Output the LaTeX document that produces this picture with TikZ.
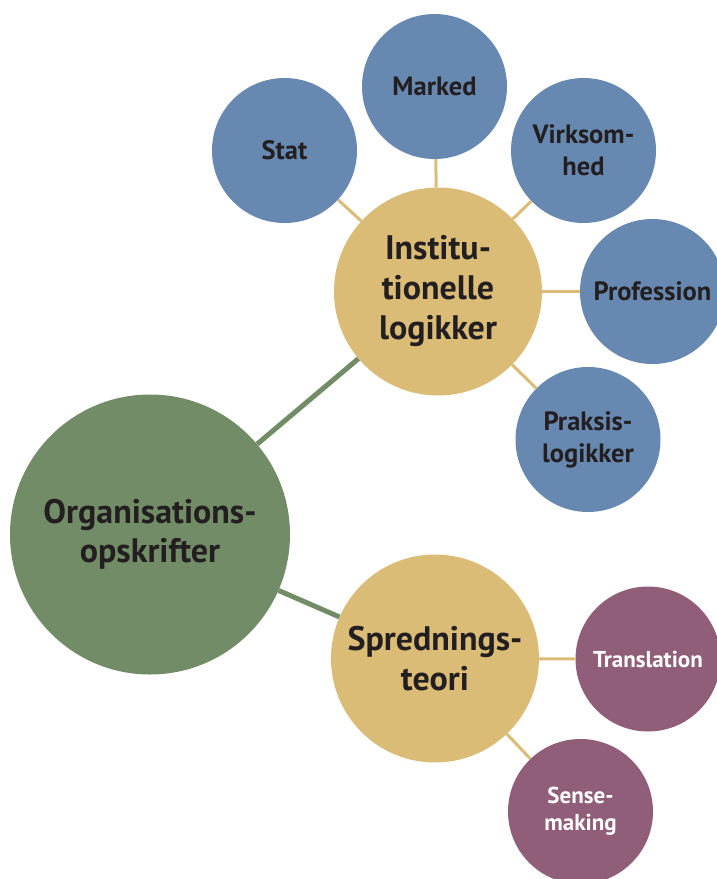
\documentclass[tikz,border=0pt]{standalone}
\usepackage{fontspec}
\setmainfont{PT Sans}
\definecolor{bluec}{HTML}{6788B0}
\definecolor{yellowc}{HTML}{DBBC77}
\definecolor{greenc}{HTML}{738C68}
\definecolor{purplec}{HTML}{905E78}
\definecolor{txt}{HTML}{231F20}
\begin{document}
\begin{tikzpicture}[x=1pt,y=-1pt,
 bubble/.style={circle, inner sep=0pt, align=center, text=txt},
 big/.style={bubble, minimum size=280pt, fill=greenc, font=\fontsize{34}{39}\selectfont\bfseries},
 mid/.style={bubble, minimum size=208pt, fill=yellowc, font=\fontsize{34}{40}\selectfont\bfseries},
 leafb/.style={bubble, minimum size=145pt, fill=bluec, font=\fontsize{26.5}{32}\selectfont\bfseries},
 leafp/.style={bubble, minimum size=145pt, fill=purplec, text=white, font=\fontsize{23}{27}\selectfont\bfseries},
 gline/.style={draw=greenc, line width=5pt},
 yline/.style={draw=yellowc, line width=3pt}]
\useasboundingbox (0,0) rectangle (717,879);
\node[big] (org) at (150,534.5) {Organisations-\\opskrifter};
\node[mid] (inst) at (438,291.5) {Institu-\\tionelle\\logikker};
\node[mid] (spr) at (435,658.5) {Sprednings-\\teori};
\node[leafb] (stat) at (284.5,150.5) {Stat};
\node[leafb] (marked) at (434.5,86.5) {Marked};
\node[leafb] (virk) at (583.5,150.5) {Virksom-\\hed};
\node[leafb] (prof) at (652.5,291.5) {Profession};
\node[leafb] (praks) at (588,439.5) {Praksis-\\logikker};
\node[leafp] (trans) at (648,659) {Translation};
\node[leafp] (sense) at (580.5,811.5) {Sense-\\making};
\draw[gline] (org) -- (inst);
\draw[gline] (org) -- (spr);
\draw[yline] (inst) -- (stat);
\draw[yline] (inst) -- (marked);
\draw[yline] (inst) -- (virk);
\draw[yline] (inst) -- (prof);
\draw[yline] (inst) -- (praks);
\draw[yline] (spr) -- (trans);
\draw[yline] (spr) -- (sense);
\end{tikzpicture}
\end{document}
